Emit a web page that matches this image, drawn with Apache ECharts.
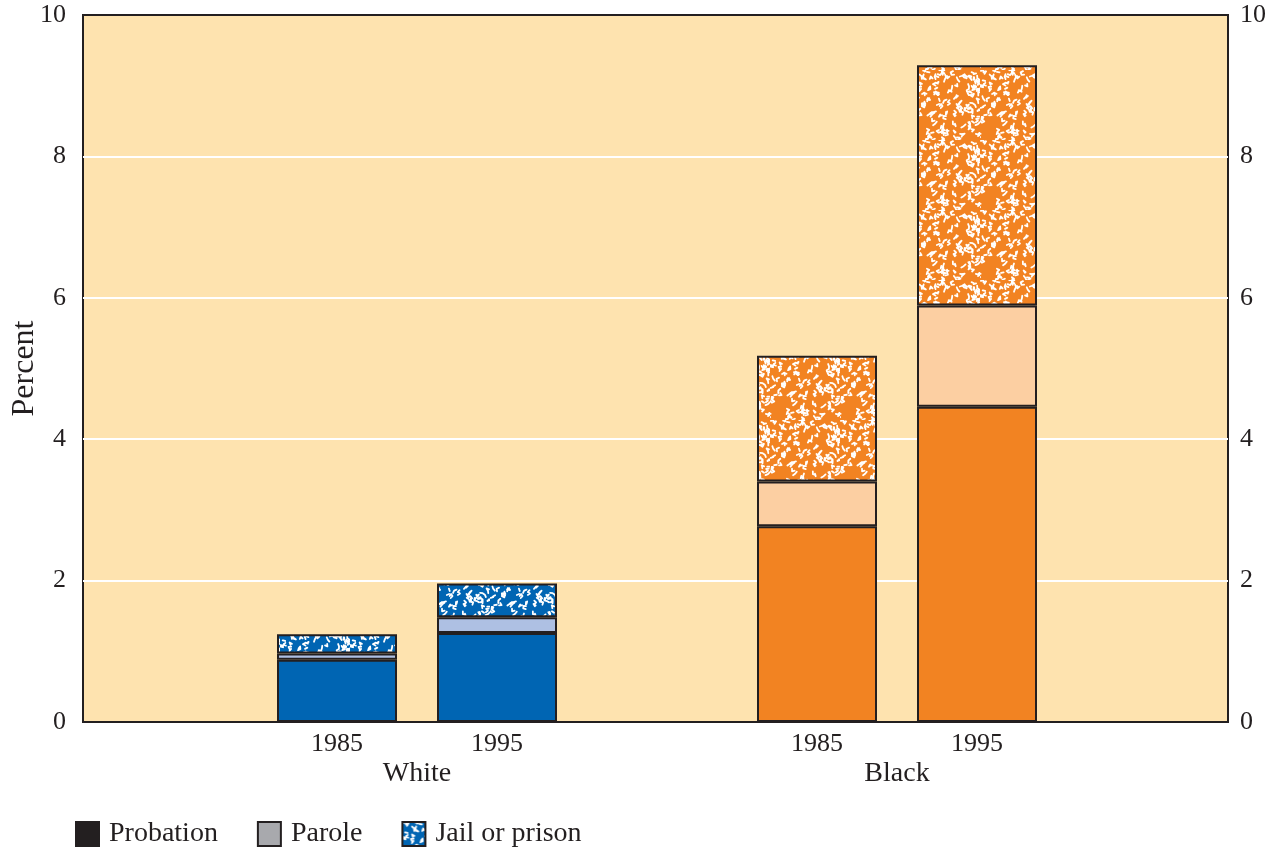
<!DOCTYPE html>
<html><head><meta charset="utf-8">
<script src="https://cdn.jsdelivr.net/npm/echarts@6/dist/echarts.min.js"></script>
<style>html,body{margin:0;padding:0;background:#fff}#c{width:1285px;height:851px}</style>
</head><body><div id="c"></div>
<script>
// ---- data ----
const categories = ['', '1985', '1995', '', '1985', '1995', ''];
const groupLabels = ['White', 'Black'];
const probationWhite = [0.88, 1.26];
const probationBlack = [2.77, 4.46];
const paroleWhite = [0.09, 0.22];
const paroleBlack = [0.63, 1.43];
const jailWhite = [0.27, 0.48];
const jailBlack = [1.78, 3.40];
const yTicks = [0, 2, 4, 6, 8, 10];

// ---- styles ----
const FONT = 'Liberation Serif';
const EDGE = '#231F20';
const blue = '#0065B3', blueLight = '#AEC0E3';
const orange = '#F28322', orangeLight = '#FCCFA2';

function makePattern(bg) {
  const s = 70;
  const c = document.createElement('canvas');
  c.width = s; c.height = s;
  const g = c.getContext('2d');
  g.fillStyle = bg; g.fillRect(0, 0, s, s);
  g.strokeStyle = '#ffffff'; g.lineWidth = 1.8; g.lineCap = 'round'; g.lineJoin = 'round';
  let seed = 987;
  const rnd = () => { seed = (seed * 1103515245 + 12345) & 0x7fffffff; return seed / 0x7fffffff; };
  for (let i = 0; i < 150; i++) {
    let x = rnd() * s, y = rnd() * s;
    g.beginPath(); g.moveTo(x, y);
    const n = 1 + Math.floor(rnd() * 3);
    for (let k = 0; k < n; k++) {
      const a = rnd() * Math.PI * 2;
      x += Math.cos(a) * 2.6; y += Math.sin(a) * 2.6;
      g.lineTo(x, y);
    }
    g.stroke();
  }
  return { image: c, repeat: 'repeat' };
}
const bluePat = makePattern(blue);
const orangePat = makePattern(orange);

function build(whiteVals, blackVals, wColor, bColor) {
  const out = categories.map(() => '-');
  out[1] = { value: whiteVals[0], itemStyle: { color: wColor } };
  out[2] = { value: whiteVals[1], itemStyle: { color: wColor } };
  out[4] = { value: blackVals[0], itemStyle: { color: bColor } };
  out[5] = { value: blackVals[1], itemStyle: { color: bColor } };
  return out;
}

const labelStyle = { fontFamily: FONT, fontSize: 26, color: '#231F20' };
const chart = echarts.init(document.getElementById('c'), null, { renderer: 'canvas' });
const barCommon = {
  type: 'bar', stack: 'total', xAxisIndex: 1, yAxisIndex: 2, barWidth: 120,
  emphasis: { disabled: true }
};
const itemBorder = { borderColor: EDGE, borderWidth: 2 };
chart.setOption({
  animation: false,
  grid: [
    { left: 83, right: 57, top: 15, bottom: 129, show: true, backgroundColor: '#FEE3AF',
      borderColor: EDGE, borderWidth: 2, containLabel: false, outerBoundsMode: 'none' },
    { left: 97, width: 1120, top: 15, bottom: 129, containLabel: false, outerBoundsMode: 'none' }
  ],
  xAxis: [
    { gridIndex: 0, type: 'value', show: false, min: 0, max: 1 },
    { gridIndex: 1, type: 'category', data: categories,
      axisLine: { show: false }, axisTick: { show: false },
      axisLabel: { fontFamily: FONT, fontSize: 26, color: '#231F20', margin: 9, interval: 0 } },
    { gridIndex: 1, type: 'value', min: 0, max: 7, interval: 1, position: 'bottom',
      axisLine: { show: false }, axisTick: { show: false }, splitLine: { show: false },
      axisLabel: { fontFamily: FONT, fontSize: 28, color: '#231F20', margin: 38,
        formatter: v => (v === 2 ? groupLabels[0] : v === 5 ? groupLabels[1] : '') } }
  ],
  yAxis: [
    { gridIndex: 0, type: 'value', min: 0, max: 10, interval: 2, position: 'left',
      name: 'Percent', nameLocation: 'middle', nameGap: 42, nameMoveOverlap: false,
      nameTextStyle: { fontFamily: FONT, fontSize: 32, color: '#231F20' },
      axisLine: { show: false }, axisTick: { show: false },
      splitLine: { show: true, showMinLine: false, showMaxLine: false, lineStyle: { color: '#ffffff', width: 2 } },
      axisLabel: Object.assign({ margin: 17, formatter: v => (yTicks.includes(v) ? String(v) : '') }, labelStyle) },
    { gridIndex: 0, type: 'value', min: 0, max: 10, interval: 2, position: 'right',
      axisLine: { show: false }, axisTick: { show: false }, splitLine: { show: false },
      axisLabel: Object.assign({ margin: 12, formatter: v => (yTicks.includes(v) ? String(v) : '') }, labelStyle) },
    { gridIndex: 1, type: 'value', min: 0, max: 10, show: false }
  ],
  legend: {
    left: 70, top: 815, itemWidth: 23, itemHeight: 24, itemGap: 39, icon: 'rect',
    textStyle: { fontFamily: FONT, fontSize: 28, color: '#231F20', padding: [0, 0, 0, 5] },
    data: ['Probation', 'Parole', 'Jail or prison']
  },
  series: [
    Object.assign({ name: 'Probation', itemStyle: Object.assign({ color: '#231F20' }, itemBorder),
      data: build(probationWhite, probationBlack, blue, orange) }, barCommon),
    Object.assign({ name: 'Parole', itemStyle: Object.assign({ color: '#A8A9AD' }, itemBorder),
      data: build(paroleWhite, paroleBlack, blueLight, orangeLight) }, barCommon),
    Object.assign({ name: 'Jail or prison', itemStyle: Object.assign({ color: bluePat }, itemBorder),
      data: build(jailWhite, jailBlack, bluePat, orangePat) }, barCommon)
  ]
});
</script></body></html>
